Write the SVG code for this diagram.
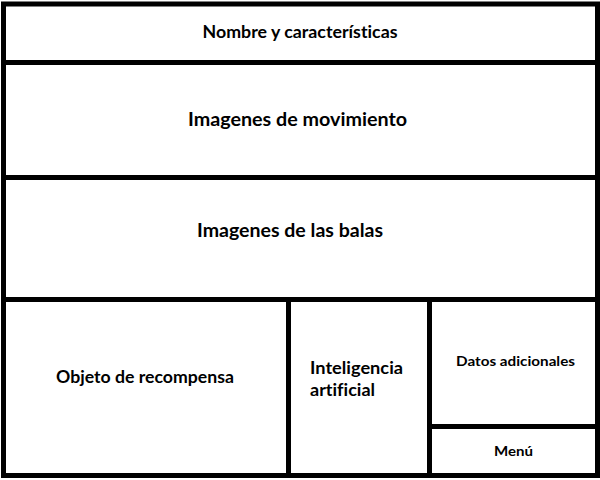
<svg xmlns="http://www.w3.org/2000/svg" width="600" height="480" viewBox="0 0 600 480">
<style>
.box{fill:#ffffff;stroke:#000000;stroke-width:5}
.t{font-family:Lato,"Liberation Sans",sans-serif;font-weight:bold;fill:#000000;font-variant-ligatures:none}
</style>
<rect x="0" y="0" width="600" height="480" fill="#ffffff"/>
<g id="nombre"><rect class="box" x="3.5" y="4" width="594" height="58.5"/><text class="t" x="300" y="38" font-size="16.5" text-anchor="middle" textLength="195" lengthAdjust="spacingAndGlyphs">Nombre y características</text></g>
<g id="movimiento"><rect class="box" x="3.5" y="62.5" width="594" height="115"/><text class="t" x="297.5" y="126" font-size="18.5" text-anchor="middle" textLength="219" lengthAdjust="spacingAndGlyphs">Imagenes de movimiento</text></g>
<g id="balas"><rect class="box" x="3.5" y="177.5" width="594" height="122"/><text class="t" x="290" y="237" font-size="18.5" text-anchor="middle" textLength="186" lengthAdjust="spacingAndGlyphs">Imagenes de las balas</text></g>
<g id="objeto"><rect class="box" x="3.5" y="299.5" width="285" height="176"/><text class="t" x="145" y="383" font-size="16.5" text-anchor="middle" textLength="178" lengthAdjust="spacingAndGlyphs">Objeto de recompensa</text></g>
<g id="ia"><rect class="box" x="288.5" y="299.5" width="141" height="176"/><text class="t" x="310" y="374" font-size="16.5" textLength="93" lengthAdjust="spacingAndGlyphs">Inteligencia</text><text class="t" x="310" y="396" font-size="16.5" textLength="65" lengthAdjust="spacingAndGlyphs">artificial</text></g>
<g id="datos"><rect class="box" x="429.5" y="299.5" width="168" height="127"/><text class="t" x="515.5" y="366" font-size="13.5" text-anchor="middle" textLength="119" lengthAdjust="spacingAndGlyphs">Datos adicionales</text></g>
<g id="menu"><rect class="box" x="429.5" y="426.5" width="168" height="49"/><text class="t" x="513.5" y="456" font-size="13.5" text-anchor="middle" textLength="39" lengthAdjust="spacingAndGlyphs">Menú</text></g>
<g id="connectors"></g>
</svg>
